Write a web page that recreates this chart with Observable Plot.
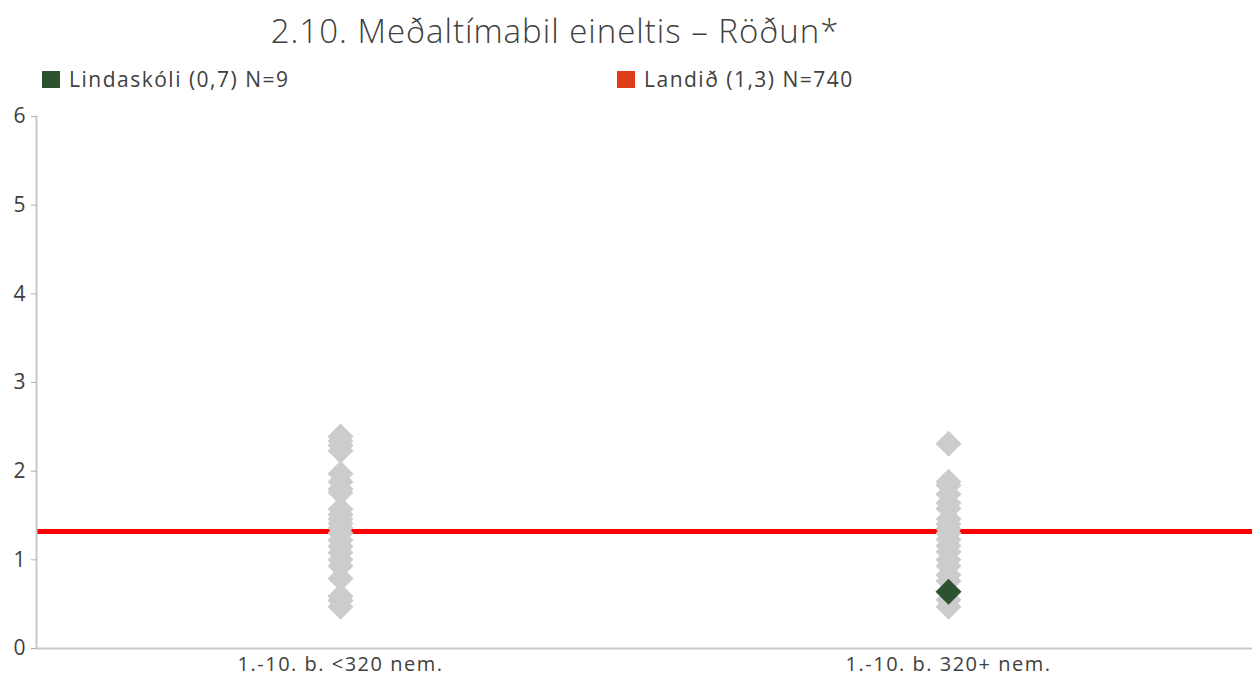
<!DOCTYPE html>
<html>
<head>
<meta charset="utf-8">
<script src="https://cdn.jsdelivr.net/npm/d3@7"></script>
<script src="https://cdn.jsdelivr.net/npm/@observablehq/plot@0.6"></script>
<style>
  html, body { margin: 0; padding: 0; background: #fff; }
  #wrap { position: relative; width: 1258px; height: 677px; font-family: "Open Sans", Lato, sans-serif; color: #404040; }
  #title { position: absolute; top: 14px; left: 0; width: 1110px; text-align: center; font-size: 33px; line-height: 33px; font-weight: 300; letter-spacing: 1px; }
  .leg { position: absolute; top: 69px; font-size: 21px; line-height: 21px; display: flex; align-items: center; letter-spacing: 1.5px; }
  .sw { width: 18px; height: 17px; margin-right: 9px; display: inline-block; }
  #chart { position: absolute; top: 100px; left: 0; }
  #chart g[aria-label="x-axis tick label"] text { letter-spacing: 1.5px; }
</style>
</head>
<body>
<div id="wrap">
  <div id="title"></div>
  <div class="leg" id="leg1" style="left:42px"></div>
  <div class="leg" id="leg2" style="left:617px"></div>
  <div id="chart"></div>
</div>
<script>
const titleText = "2.10. Meðaltímabil eineltis – Röðun*";
const categories = ["1.-10. b. <320 nem.", "1.-10. b. 320+ nem."];
const smallSchools = [2.39, 2.34, 2.29, 2.23, 1.97, 1.88, 1.80, 1.76, 1.57, 1.51, 1.46, 1.41, 1.36, 1.30, 1.22, 1.15, 1.08, 1.00, 0.93, 0.79, 0.59, 0.54, 0.47];
const largeSchools = [2.31, 1.88, 1.84, 1.74, 1.64, 1.58, 1.46, 1.40, 1.35, 1.30, 1.23, 1.16, 1.09, 1.00, 0.93, 0.83, 0.76, 0.55, 0.47];
const schoolName = "Lindaskóli (0,7) N=9";
const schoolCategory = categories[1];
const schoolValue = 0.64;
const nationalName = "Landið (1,3) N=740";
const nationalValue = 1.32;
const yTicks = [0, 1, 2, 3, 4, 5, 6];

const greyColor = "#cccccc";
const schoolColor = "#2e5130";
const nationalColor = "#ff0000";
const nationalLegendColor = "#e03c1a";

document.getElementById("title").textContent = titleText;
document.getElementById("leg1").innerHTML = `<span class="sw" style="background:${schoolColor}"></span>${schoolName}`;
document.getElementById("leg2").innerHTML = `<span class="sw" style="background:${nationalLegendColor}"></span>${nationalName}`;

const greyData = [
  ...smallSchools.map(v => ({cat: categories[0], v})),
  ...largeSchools.map(v => ({cat: categories[1], v}))
];

const chart = Plot.plot({
  width: 1258,
  height: 577,
  marginTop: 16,
  marginBottom: 29,
  marginLeft: 36,
  marginRight: 6,
  style: {fontFamily: "'Open Sans', Lato, sans-serif", background: "white", color: "#404040"},
  x: {type: "band", domain: categories, padding: 0, axis: null, label: null},
  y: {domain: [0, 6], axis: null, label: null},
  marks: [
    Plot.ruleY([nationalValue], {stroke: nationalColor, strokeWidth: 5}),
    Plot.dot(greyData, {x: "cat", y: "v", symbol: "diamond2", r: 11.7, fill: greyColor}),
    Plot.dot([{cat: schoolCategory, v: schoolValue}], {x: "cat", y: "v", symbol: "diamond2", r: 11.7, fill: schoolColor}),
    Plot.ruleY([0], {stroke: "#c8c8c8", strokeWidth: 2}),
    Plot.frame({anchor: "left", stroke: "#c8c8c8", strokeWidth: 2}),
    Plot.axisY({ticks: yTicks, tickFormat: d => String(d), label: null, tickSize: 5, tickPadding: 6, fontSize: 21, stroke: "#b0b0b0", color: "#404040"}),
    Plot.axisX({tickSize: 0, tickPadding: 8, label: null, fontSize: 20, color: "#404040"})
  ]
});
document.getElementById("chart").appendChild(chart);
</script>
</body>
</html>
